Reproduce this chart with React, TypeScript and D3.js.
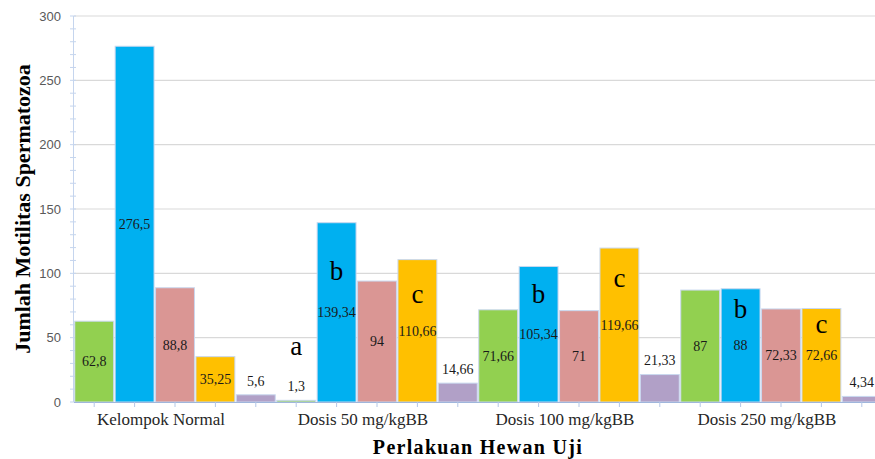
import React from "react";
import * as d3 from "d3";

const categories = ["Kelompok Normal", "Dosis 50 mg/kgBB", "Dosis 100 mg/kgBB", "Dosis 250 mg/kgBB"];
const seriesNames = ["S1", "S2", "S3", "S4", "S5"];
const seriesColors = ["#92d050", "#00b0f0", "#da9694", "#ffc000", "#b1a0c7"];
const s1 = [62.8, 1.3, 71.66, 87];
const s2 = [276.5, 139.34, 105.34, 88];
const s3 = [88.8, 94, 71, 72.33];
const s4 = [35.25, 110.66, 119.66, 72.66];
const s5 = [5.6, 14.66, 21.33, 4.34];
const seriesValues = [s1, s2, s3, s4, s5];
const yTicks = [0, 50, 100, 150, 200, 250, 300];
// significance letters: category index, series index, letter, baseline (data units)
const letterCat = [1, 1, 1, 2, 2, 3, 3];
const letterSeries = [0, 1, 3, 1, 3, 1, 3];
const letterText = ["a", "b", "c", "b", "c", "b", "c"];
const letterY = [36.5, 94.8, 77, 76.7, 89.6, 65.3, 53.6];

const fmt = (v: number) => String(v).replace(".", ",");

export default function App() {
  const W = 875, H = 459;
  const x0 = 74, plotW = 808;
  const yTop = 16, yBot = 402;
  const x = d3.scaleBand<string>().domain(categories).range([x0, x0 + plotW]).padding(0);
  const xs = d3.scaleBand<string>().domain(seriesNames).range([0, x.bandwidth()]).padding(0);
  const y = d3.scaleLinear().domain([0, 300]).range([yBot, yTop]);
  const minor = d3.range(0, 301, 10);
  const serif = "'Liberation Serif', 'Times New Roman', serif";

  return (
    <svg width={W} height={H} style={{ position: "absolute", left: 0, top: 0, background: "#fff" }}>
      <rect x={0} y={0} width={W} height={H} fill="#fff" />
      {/* gridlines */}
      {yTicks.filter(t => t > 0).map(t => (
        <line key={"g" + t} x1={x0} x2={W} y1={y(t)} y2={y(t)} stroke="#d9d9d9" strokeWidth={1.2} />
      ))}
      {/* y axis */}
      <line x1={x0 - 0.5} x2={x0 - 0.5} y1={yTop} y2={yBot} stroke="#c5d5ee" strokeWidth={1} />
      {minor.map(t => (
        <line key={"m" + t} x1={x0 - 4} x2={x0 + 2} y1={y(t)} y2={y(t)} stroke="#c5d5ee" strokeWidth={1} />
      ))}
      {yTicks.map(t => (
        <text key={"yt" + t} x={61} y={y(t)} dy="0.35em" textAnchor="end" fontFamily="'Liberation Sans', Arial, sans-serif" fontSize={13} fill="#595959">{t}</text>
      ))}
      {/* bars */}
      {categories.map((c, ci) => (
        <g key={c} transform={`translate(${x(c)},0)`}>
          {seriesNames.map((s, si) => {
            const v = seriesValues[si][ci];
            const bx = (xs(s) as number) + 0.75;
            const bw = xs.bandwidth() - 1.5;
            return (
              <rect key={s} x={bx} y={y(v)} width={bw} height={yBot - y(v)} fill={seriesColors[si]} stroke="#c9d8ef" strokeWidth={1} />
            );
          })}
        </g>
      ))}
      {/* x axis line */}
      <line x1={x0} x2={W} y1={yBot + 0.5} y2={yBot + 0.5} stroke="#9fb6dc" strokeWidth={1.2} />
      {categories.map(c => seriesNames.map(s => (
        <line key={c + s + "t"} x1={(x(c) as number) + (xs(s) as number) + xs.bandwidth() / 2} x2={(x(c) as number) + (xs(s) as number) + xs.bandwidth() / 2} y1={yBot} y2={yBot + 5} stroke="#b4c7e7" strokeWidth={1} />
      )))}
      {/* value labels */}
      {categories.map((c, ci) => seriesNames.map((s, si) => {
        const v = seriesValues[si][ci];
        const cx = (x(c) as number) + (xs(s) as number) + xs.bandwidth() / 2;
        const cy = v >= 30 ? (y(v) + yBot) / 2 : y(v) - 14;
        return (
          <text key={c + s + "l"} x={cx} y={cy} dy="0.35em" textAnchor="middle" fontFamily={serif} fontSize={14} fill="#1a1a1a">{fmt(v)}</text>
        );
      }))}
      {/* letters */}
      {letterText.map((l, i) => {
        const c = categories[letterCat[i]];
        const s = seriesNames[letterSeries[i]];
        const cx = (x(c) as number) + (xs(s) as number) + xs.bandwidth() / 2;
        return (
          <text key={"L" + i} x={cx} y={y(letterY[i])} textAnchor="middle" fontFamily={serif} fontSize={27} fill="#000">{l}</text>
        );
      })}
      {/* category labels */}
      {categories.map(c => (
        <text key={c + "cl"} x={(x(c) as number) + x.bandwidth() / 2 - 14} y={425} textAnchor="middle" fontFamily={serif} fontSize={17} fill="#262626">{c}</text>
      ))}
      {/* axis titles */}
      <text x={478} y={454} textAnchor="middle" fontFamily={serif} fontWeight="bold" fontSize={20} letterSpacing={1.3} fill="#000">Perlakuan  Hewan  Uji</text>
      <text transform="translate(30,209) rotate(-90)" textAnchor="middle" fontFamily={serif} fontWeight="bold" fontSize={22} fill="#000">Jumlah  Motilitas Spermatozoa</text>
    </svg>
  );
}
